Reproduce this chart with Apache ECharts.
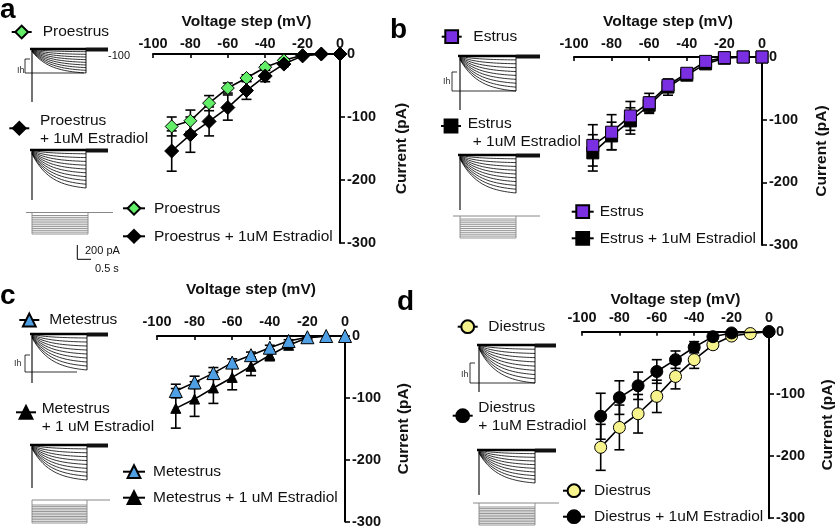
<!DOCTYPE html>
<html><head><meta charset="utf-8">
<script src="https://cdn.jsdelivr.net/npm/echarts@6/dist/echarts.min.js"></script>
<style>html,body{margin:0;padding:0;background:#fff}#c{width:837px;height:529px}</style>
</head><body><div id="c"></div><script>
// ---------- data ----------
const voltages = [-90, -80, -70, -60, -50, -40, -30, -20, -10, 0];
const xTicks = [-100, -80, -60, -40, -20, 0];
const yTicks = [0, -100, -200, -300];

const proestrus      = [-115, -106, -78, -54, -38, -21, -10, -2, 0, 0];
const proestrusErr   = [15, 17, 12, 8, 5, 4, 3, 2, 0, 0];
const proestrusE2    = [-154, -128, -107, -85, -58, -35, -16, -3, 0, 0];
const proestrusE2Err = [32, 28, 23, 20, 14, 9, 4, 2, 0, 0];

const estrus      = [-141, -120, -94, -73, -45, -26, -7, -1, 0, 0];
const estrusErr   = [33, 28, 23, 15, 8, 4, 3, 1, 0, 0];
const estrusE2    = [-153, -126, -102, -77, -48, -29, -11, -2, 0, 0];
const estrusE2Err = [29, 22, 21, 13, 13, 5, 3, 1, 0, 0];

const metestrus      = [-89, -75, -60, -43, -31, -19, -8, -2, 0, 0];
const metestrusErr   = [11, 10, 9, 6, 5, 4, 2, 1, 0, 0];
const metestrusE2    = [-117, -102, -84, -67, -49, -31, -15, -3, 0, 0];
const metestrusE2Err = [32, 28, 25, 20, 15, 9, 4, 2, 0, 0];

const diestrus      = [-186, -154, -132, -104, -72, -45, -21, -7, -3, 0];
const diestrusErr   = [37, 36, 31, 26, 20, 14, 6, 3, 0, 0];
const diestrusE2    = [-136, -106, -87, -64, -45, -25, -8, -2, null, 0];
const diestrusE2Err = [37, 27, 22, 19, 14, 9, 4, 2, 0, 0];

// ---------- layout / styles ----------
const FONT = 'Liberation Sans, Arial, Helvetica, sans-serif';
const panels = [
  { grid: {left:153, top:54, width:187, height:189}, xGap:24, xMargin:3, yGap:54,
    ctrl:{name:'Proestrus', v:proestrus, e:proestrusErr, symbol:'diamond', size:13, color:'#62EE68'},
    e2:{name:'Proestrus + 1uM Estradiol', v:proestrusE2, e:proestrusE2Err, symbol:'diamond', size:14},
    e2Top:true,
    legend:{left:122, top:200.3, gap:12, pad:4},
    in1:{x:10.7, y:32, pad:6, text:'Proestrus'},
    in2:{x:8.3, y:128.3, line1:[40,121.7], line2:[40,140], text:'Proestrus', text2:'+ 1uM Estradiol'} },
  { grid: {left:574, top:57, width:188, height:188}, xGap:27, xMargin:6, yGap:52,
    ctrl:{name:'Estrus', v:estrus, e:estrusErr, symbol:'rect', size:12, color:'#7B2FE3'},
    e2:{name:'Estrus + 1uM Estradiol', v:estrusE2, e:estrusE2Err, symbol:'rect', size:12},
    e2Top:false,
    legend:{left:570.7, top:203.7, gap:10.6, pad:1},
    in1:{x:440.7, y:36.7, pad:6.6, text:'Estrus'},
    in2:{x:440, y:126, line1:[467.7,125], line2:[472.7,142.7], text:'Estrus', text2:'+ 1uM Estradiol'} },
  { grid: {left:157, top:336, width:188, height:187}, xGap:38, xMargin:7, yGap:51,
    ctrl:{name:'Metestrus', v:metestrus, e:metestrusErr, symbol:'triangle', size:13, color:'#4E9FE3'},
    e2:{name:'Metestrus + 1 uM Estradiol', v:metestrusE2, e:metestrusE2Err, symbol:'triangle', size:10},
    e2Top:false,
    legend:{left:122, top:463.7, gap:10, pad:3},
    in1:{x:18.3, y:320, pad:5, text:'Metestrus'},
    in2:{x:15, y:412.3, line1:[41.7,409.3], line2:[41.7,427.7], text:'Metestrus', text2:'+ 1 uM Estradiol'} },
  { grid: {left:582, top:331.7, width:187, height:186.5}, xGap:24, xMargin:6, yGap:51,
    ctrl:{name:'Diestrus', v:diestrus, e:diestrusErr, symbol:'circle', size:12, color:'#F6F28C'},
    e2:{name:'Diestrus + 1uM Estradiol', v:diestrusE2, e:diestrusE2Err, symbol:'circle', size:12},
    e2Top:true,
    legend:{left:562, top:482.7, gap:10, pad:4},
    in1:{x:456.7, y:326.7, pad:5.6, text:'Diestrus'},
    in2:{x:451.7, y:415.7, line1:[478.3,408.3], line2:[478.3,426.7], text:'Diestrus', text2:'+ 1uM Estradiol'} }
];

function errRender(params, api) {
  const x = api.value(0), lo = api.value(1), hi = api.value(2);
  const a = api.coord([x, lo]), b = api.coord([x, hi]);
  const w = 5, st = {stroke:'#000', lineWidth:1.6};
  return {type:'group', children:[
    {type:'line', shape:{x1:a[0], y1:a[1], x2:b[0], y2:b[1]}, style:st},
    {type:'line', shape:{x1:a[0]-w, y1:a[1], x2:a[0]+w, y2:a[1]}, style:st},
    {type:'line', shape:{x1:b[0]-w, y1:b[1], x2:b[0]+w, y2:b[1]}, style:st}
  ]};
}

const grid = [], xAxis = [], yAxis = [], series = [], legend = [], graphic = [];
panels.forEach((p, gi) => {
  grid.push(p.grid);
  xAxis.push({type:'value', gridIndex:gi, min:-100, max:0, interval:20, position:'top',
    name:'Voltage step (mV)', nameLocation:'middle', nameGap:p.xGap,
    nameTextStyle:{fontFamily:FONT, fontWeight:'bold', fontSize:15.5, color:'#111'},
    axisLine:{onZero:false, lineStyle:{color:'#000', width:2}},
    axisTick:{inside:true, length:4, lineStyle:{color:'#000', width:1.6}},
    axisLabel:{margin:p.xMargin, fontFamily:FONT, fontWeight:'bold', fontSize:14.5, color:'#111',
      customValues: xTicks},
    splitLine:{show:false}});
  yAxis.push({type:'value', gridIndex:gi, min:-300, max:0, interval:100, position:'right',
    name:'Current (pA)', nameLocation:'middle', nameGap:p.yGap, nameRotate:90,
    nameTextStyle:{fontFamily:FONT, fontWeight:'bold', fontSize:15.5, color:'#111'},
    axisLine:{onZero:false, lineStyle:{color:'#000', width:2}},
    axisTick:{inside:false, length:5, lineStyle:{color:'#000', width:1.6}},
    axisLabel:{margin:7, fontFamily:FONT, fontWeight:'bold', fontSize:14.5, color:'#111',
      customValues: yTicks},
    splitLine:{show:false}});

  const mk = (s, fill, z) => ({
    type:'line', name:s.name, xAxisIndex:gi, yAxisIndex:gi, z:z,
    data: voltages.map((v, i) => [v, s.v[i]]), connectNulls:true,
    symbol:s.symbol, symbolSize:s.size,
    itemStyle:{color:fill, borderColor:'#000', borderWidth:1},
    lineStyle:{color:'#000', width:1.6}, emphasis:{disabled:true}, animation:false});
  const errS = (s, z) => ({
    type:'custom', xAxisIndex:gi, yAxisIndex:gi, z:z, renderItem:errRender,
    encode:{x:0, y:[1,2]}, silent:true, animation:false,
    data: voltages.map((v, i) => [v, s.v[i] - s.e[i], s.v[i] + s.e[i]])
                  .filter((d, i) => s.e[i] > 0 && s.v[i] !== null)});
  series.push(errS(p.e2, 1), errS(p.ctrl, 1));
  series.push(mk(p.e2, '#000', p.e2Top ? 4 : 3));
  series.push(mk(p.ctrl, p.ctrl.color, p.e2Top ? 3 : 4));

  const ts = (pad) => ({fontFamily:FONT, fontSize:15.5, color:'#111', padding:[0, 0, 0, pad]});
  legend.push({orient:'vertical', left:p.legend.left, top:p.legend.top, padding:0,
    itemWidth:22, itemHeight:16, itemGap:p.legend.gap, selectedMode:false,
    data:[p.ctrl.name, p.e2.name], textStyle:ts(p.legend.pad)});
  legend.push({left:p.in1.x, top:p.in1.y - 8, padding:0, itemWidth:20, itemHeight:16,
    selectedMode:false, data:[p.ctrl.name], formatter:() => p.in1.text, textStyle:ts(p.in1.pad)});
  legend.push({left:p.in2.x, top:p.in2.y - 8, padding:0, itemWidth:20, itemHeight:16,
    selectedMode:false, data:[p.e2.name], formatter:() => '', textStyle:ts(0)});
  graphic.push({type:'text', left:p.in2.line1[0], top:p.in2.line1[1] - 9,
    style:{text:p.in2.text, font:'15.5px ' + FONT, fill:'#111'}});
  graphic.push({type:'text', left:p.in2.line2[0], top:p.in2.line2[1] - 9,
    style:{text:p.in2.text2, font:'15.5px ' + FONT, fill:'#111'}});
});

// ---------- decorative recording insets ----------
function ln(x1, y1, x2, y2, w, c) {
  return {type:'line', silent:true, shape:{x1, y1, x2, y2}, style:{stroke:c || '#000', lineWidth:w}};
}
function trace(x0, xs, x1, yb, yd, yv, n) {
  const out = [];
  out.push(ln(x0, yb, x0, yv, 1.1));
  for (let i = 1; i <= n; i++) {
    const a = (yd - yb) * (i / n);
    const pts = [];
    for (let k = 0; k <= 20; k++) {
      const t = k / 20;
      pts.push([x0 + (xs - x0) * t, yb + a * (0.1 + 0.9 * (1 - Math.exp(-t * 3)) / (1 - Math.exp(-3)))]);
    }
    out.push({type:'polyline', silent:true, shape:{points:pts}, style:{stroke:'#000', lineWidth:0.8, fill:null}});
  }
  out.push(ln(xs, yb, xs, yd, 0.9));
  out.push(ln(x0 - 2, yb, xs, yb, 2.4));
  out.push({type:'rect', silent:true, shape:{x:xs, y:yb - 1.5, width:x1 - xs, height:4}, style:{fill:'#111'}});
  return out;
}
function steps(xa, xb, xs, x0, yt, y1, y2, n) {
  const out = [ln(xa, yt, xb, yt, 1, '#888')];
  for (let i = 0; i < n; i++) {
    const y = y1 + (y2 - y1) * i / (n - 1);
    out.push(ln(x0, y, xs, y, 0.9, '#888'));
  }
  out.push(ln(x0, yt, x0, y2, 0.9, '#888'), ln(xs, yt, xs, y2, 0.9, '#888'));
  return out;
}
function ih(bx, yt, yb2, xe, lx, ly) {
  return [ln(bx, yt, bx + 5, yt, 0.8), ln(bx, yt, bx, yb2, 0.8), ln(bx, yb2, xe, yb2, 0.8),
    {type:'text', left:lx, top:ly - 5, silent:true, style:{text:'Ih', font:'9px ' + FONT, fill:'#333'}}];
}
const deco = [].concat(
  // a
  trace(32, 86, 108, 49, 73, 102, 9), ih(25, 59, 73, 84, 17, 71),
  [{type:'text', left:108, top:50, style:{text:'-100', font:'11px ' + FONT, fill:'#111'}}],
  trace(32, 86, 108, 150, 188, 200, 10),
  steps(26, 113, 88, 32, 212.5, 215.5, 234, 11),
  [ln(77.3, 245, 77.3, 259.3, 1), ln(77.3, 259.3, 91, 259.3, 1),
   {type:'text', left:85, top:245, style:{text:'200 pA', font:'11px ' + FONT, fill:'#111'}},
   {type:'text', left:95, top:263, style:{text:'0.5 s', font:'11px ' + FONT, fill:'#111'}}],
  // b
  trace(460, 516, 540, 56, 91, 110, 9), ih(452, 72, 91, 516, 443, 82),
  trace(460, 516, 540, 155, 193, 210, 10),
  steps(453, 540, 516, 460, 216, 219, 238, 11),
  // c
  trace(32, 87, 108, 334, 370, 383, 9), ih(25, 355, 372, 77, 14, 364),
  trace(32, 87, 108, 445, 480, 488, 9),
  steps(32, 110, 87, 32, 500, 505, 523, 12),
  // d
  trace(479, 535, 556, 345, 383, 392, 9), ih(470, 363, 383, 535, 461, 375),
  trace(479, 535, 556, 450, 483, 495, 9),
  steps(473, 559, 535, 479, 503, 507, 525, 12)
);
// panel letters
const letters = [['a', 0, -4], ['b', 390, 16], ['c', 0, 282], ['d', 397, 288]];
letters.forEach(l => graphic.push({type:'text', left:l[1], top:l[2],
  style:{text:l[0], font:'bold 28px ' + FONT, fill:'#000'}}));

const chart = echarts.init(document.getElementById('c'), null, {renderer:'canvas'});
chart.setOption({
  animation:false, backgroundColor:'#fff',
  grid, xAxis, yAxis, series, legend,
  graphic: graphic.concat(deco)
});
</script></body></html>
